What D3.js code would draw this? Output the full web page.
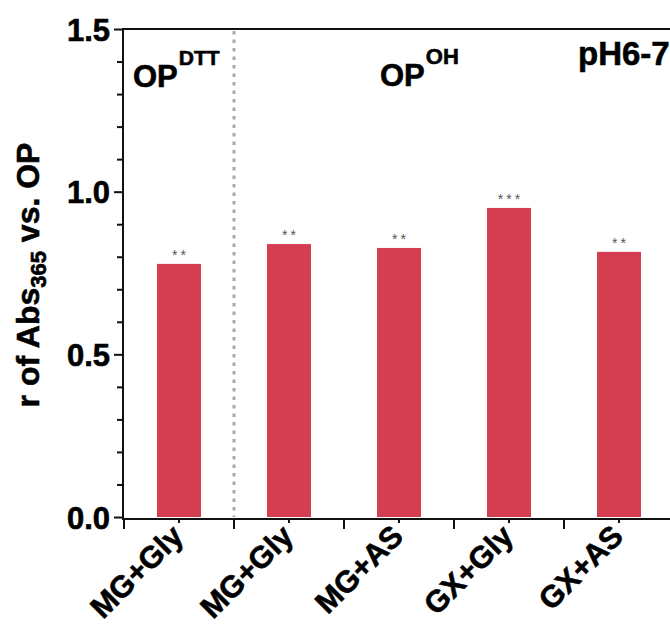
<!DOCTYPE html>
<html>
<head>
<meta charset="utf-8">
<script src="https://cdn.jsdelivr.net/npm/d3@7"></script>
<style>
  html, body { margin: 0; padding: 0; background: #fff; }
  svg { display: block; }
  text { font-family: "Liberation Sans", Arial, sans-serif; font-weight: bold; }
  .heavy { stroke: #000; stroke-width: 0.6px; }
</style>
</head>
<body>
<svg id="chart" width="670" height="625"></svg>
<script>
// ---- data ----
const categories = ["MG+Gly", "MG+Gly", "MG+AS", "GX+Gly", "GX+AS"];
const values = [0.778, 0.839, 0.827, 0.950, 0.815];
const significance = ["**", "**", "**", "***", "**"];
const majorTicks = [0.0, 0.5, 1.0, 1.5];
const minorTicks = [0.1, 0.2, 0.3, 0.4, 0.6, 0.7, 0.8, 0.9, 1.1, 1.2, 1.3, 1.4];
const yTickLabels = ["0.0", "0.5", "1.0", "1.5"];
const groupLabels = [
  { base: "OP", sup: "DTT" },
  { base: "OP", sup: "OH" }
];
const conditionLabel = "pH6-7";

// ---- layout ----
const svg = d3.select("#chart");
const plotLeft = 123, plotTop = 29, plotBottom = 517, xAxisY = 519;
const x = d3.scaleBand()
  .domain(d3.range(categories.length))
  .range([124, 674])
  .paddingInner(0.6)
  .paddingOuter(0.3);
const y = d3.scaleLinear().domain([0, 1.5]).range([plotBottom, plotTop]);
const step = x.step();

// bars
svg.append("g").selectAll("rect")
  .data(values)
  .enter().append("rect")
  .attr("x", (d, i) => x(i))
  .attr("y", d => y(d))
  .attr("width", x.bandwidth())
  .attr("height", d => y(0) - y(d))
  .attr("fill", "#D43E50");

// significance stars
svg.append("g").selectAll("text")
  .data(values)
  .enter().append("text")
  .attr("x", (d, i) => x(i) + x.bandwidth() / 2 + 1.5)
  .attr("y", d => y(d) - 4)
  .attr("text-anchor", "middle")
  .attr("font-size", 14)
  .attr("letter-spacing", 3)
  .style("font-weight", "normal")
  .attr("fill", "#555")
  .text((d, i) => significance[i]);

// dashed separator between group 1 and group 2
const sepX = x(0) + x.bandwidth() / 2 + step / 2;
svg.append("line")
  .attr("x1", sepX).attr("x2", sepX)
  .attr("y1", plotTop + 2).attr("y2", plotBottom)
  .attr("stroke", "#aaa")
  .attr("stroke-width", 3)
  .attr("stroke-dasharray", "3.5,5");

// top frame line
svg.append("line")
  .attr("x1", plotLeft).attr("x2", 670)
  .attr("y1", plotTop).attr("y2", plotTop)
  .attr("stroke", "#111").attr("stroke-width", 2);

// y axis major
const yMajor = d3.axisLeft(y)
  .tickValues(majorTicks)
  .tickSize(9)
  .tickPadding(4)
  .tickFormat((d, i) => yTickLabels[i]);
const gy = svg.append("g").attr("transform", `translate(${plotLeft},0)`).call(yMajor);
gy.select(".domain").remove();
gy.selectAll(".tick line").attr("stroke", "#111").attr("stroke-width", 2);
gy.selectAll(".tick text")
  .attr("font-size", 31)
  .attr("fill", "#000")
  .attr("class", "heavy")
  .attr("dy", "0.36em")
  .style("font-family", '"Liberation Sans", Arial, sans-serif')
  .style("font-weight", "bold");

// y axis minor
const yMinor = d3.axisLeft(y).tickValues(minorTicks).tickSize(6).tickFormat("");
const gym = svg.append("g").attr("transform", `translate(${plotLeft},0)`).call(yMinor);
gym.select(".domain").remove();
gym.selectAll(".tick line").attr("stroke", "#111").attr("stroke-width", 2);

// y axis line
svg.append("line")
  .attr("x1", plotLeft).attr("x2", plotLeft)
  .attr("y1", plotTop - 1).attr("y2", xAxisY + 1)
  .attr("stroke", "#111").attr("stroke-width", 2);

// x axis line
svg.append("line")
  .attr("x1", plotLeft - 1).attr("x2", 670)
  .attr("y1", xAxisY).attr("y2", xAxisY)
  .attr("stroke", "#111").attr("stroke-width", 2);

// x major ticks at boundaries, minor at centers
const boundaries = d3.range(categories.length + 1).map(i => 124 + i * step);
svg.append("g").selectAll("line")
  .data(boundaries)
  .enter().append("line")
  .attr("x1", d => d).attr("x2", d => d)
  .attr("y1", xAxisY).attr("y2", xAxisY + 10)
  .attr("stroke", "#111").attr("stroke-width", 2);

const xMinor = d3.axisBottom(x).tickSize(4).tickFormat("");
const gxm = svg.append("g").attr("transform", `translate(0,${xAxisY})`).call(xMinor);
gxm.select(".domain").remove();
gxm.selectAll(".tick line").attr("stroke", "#111").attr("stroke-width", 2);

// x labels rotated
svg.append("g").selectAll("text")
  .data(categories)
  .enter().append("text")
  .attr("class", "heavy")
  .attr("transform", (d, i) => `translate(${x(i) + x.bandwidth() / 2 + 6},${xAxisY + 19}) rotate(-45)`)
  .attr("text-anchor", "end")
  .attr("font-size", 30.5)
  .attr("fill", "#000")
  .text(d => d);

// y axis title
const yTitle = svg.append("text")
  .attr("class", "heavy")
  .attr("transform", `translate(39,${(plotTop + plotBottom) / 2 + 2}) rotate(-90)`)
  .attr("text-anchor", "middle")
  .attr("font-size", 32)
  .attr("fill", "#000");
yTitle.append("tspan").text("r of Abs");
yTitle.append("tspan").attr("font-size", 22).attr("dy", 7).text("365");
yTitle.append("tspan").attr("dy", -7).text(" vs. OP");

// group labels
const groupPos = [{ x: 133, y: 87 }, { x: 380, y: 86 }];
const supSizes = [21, 22];
groupLabels.forEach((g, i) => {
  const t = svg.append("text")
    .attr("class", "heavy")
    .attr("x", groupPos[i].x).attr("y", groupPos[i].y)
    .attr("font-size", 31).attr("fill", "#000");
  t.append("tspan").text(g.base);
  t.append("tspan").attr("font-size", supSizes[i]).attr("dy", -22).attr("dx", 1).text(g.sup);
});

svg.append("text")
  .attr("class", "heavy")
  .attr("x", 578).attr("y", 65)
  .attr("font-size", 33).attr("fill", "#000")
  .text(conditionLabel);
</script>
</body>
</html>
